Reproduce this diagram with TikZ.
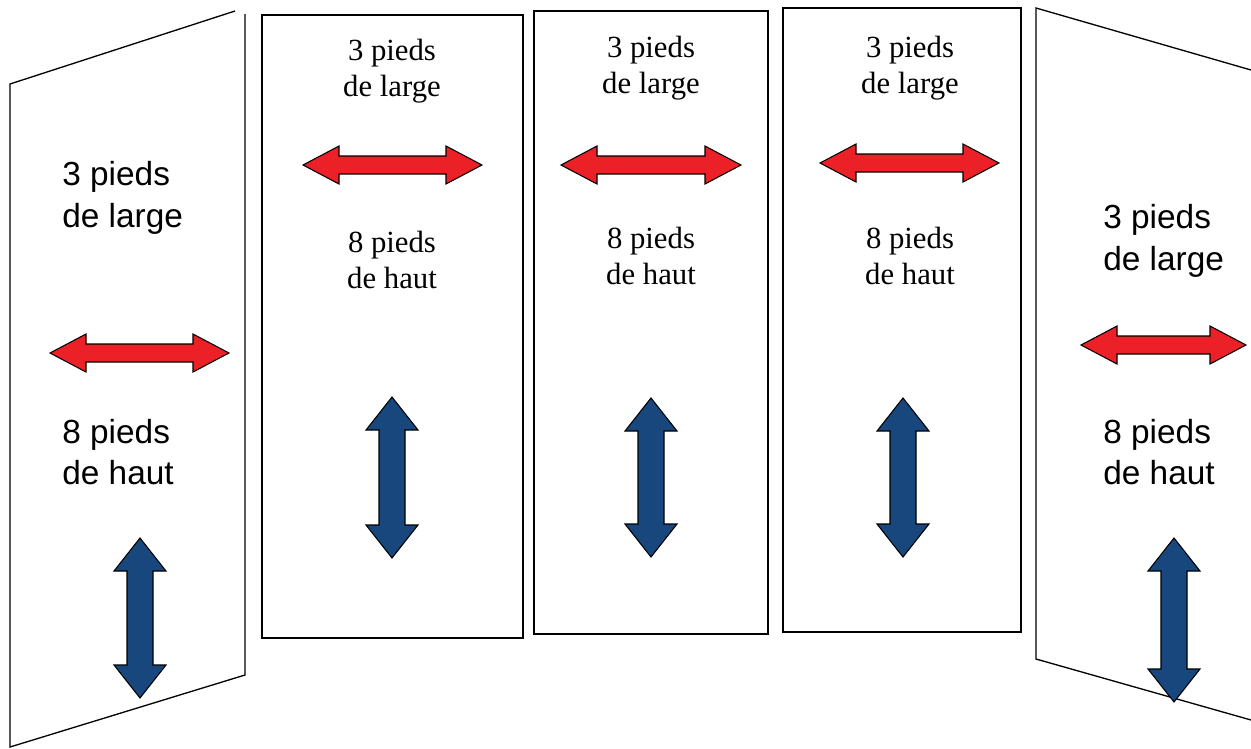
\documentclass[tikz,border=0pt]{standalone}
\usepackage{fontspec}
\setmainfont{Liberation Serif}
\setsansfont{Liberation Sans}
\definecolor{widthred}{RGB}{236,33,39}
\definecolor{heightblue}{RGB}{24,71,125}
\tikzset{
  panel/.style={line width=0.75pt, line join=miter},
  serifnote/.style={align=center, inner sep=0pt, font=\fontsize{17.5}{20.5}\selectfont},
  sansnote/.style={align=left, anchor=west, inner sep=0pt, font=\sffamily\fontsize{19}{23.5}\selectfont},
  widtharrow/.style={draw=black, line width=0.6pt, fill=widthred},
  heightarrow/.style={draw=black, line width=0.6pt, fill=heightblue},
}
\newcommand\widthmark[3]{%
  \filldraw[widtharrow] (#1,#3) -- ++(36,-19) -- ++(0,10) -- (#2-36,#3-9) -- ++(0,-10)
    -- (#2,#3) -- ++(-36,19) -- ++(0,-10) -- (#1+36,#3+9) -- ++(0,10) -- cycle;}
\newcommand\heightmark[3]{%
  \filldraw[heightarrow] (#1,#2) -- ++(26,33) -- ++(-13,0) -- (#1+13,#3-33) -- ++(13,0)
    -- (#1,#3) -- ++(-26,-33) -- ++(13,0) -- (#1-13,#2+33) -- ++(-13,0) -- cycle;}

\begin{document}
\begin{tikzpicture}[x=0.02cm, y=-0.02cm]
\useasboundingbox (0,0) rectangle (1251,748);

\draw[panel] (235,11) -- (10,84) -- (10,747) -- (245,675) -- (245,14);
\draw[panel] (262,15) rectangle (523,638);
\draw[panel] (534,11) rectangle (768,634);
\draw[panel, line width=1.6pt] (783,8) rectangle (1021,632);
\draw[panel] (1251,70) -- (1036,8) -- (1036,659) -- (1251,720);

\node[sansnote] (wide1) at (62,198) {3 pieds\\de large};
\node[sansnote] (high1) at (62,452) {8 pieds\\de haut};
\node[serifnote] (wide2) at (392,71) {3 pieds\\de large};
\node[serifnote] (high2) at (392,260) {8 pieds\\de haut};
\node[serifnote] (wide3) at (651,68) {3 pieds\\de large};
\node[serifnote] (high3) at (651,256) {8 pieds\\de haut};
\node[serifnote] (wide4) at (910,68) {3 pieds\\de large};
\node[serifnote] (high4) at (910,256) {8 pieds\\de haut};
\node[sansnote] (wide5) at (1103,241) {3 pieds\\de large};
\node[sansnote] (high5) at (1103,452) {8 pieds\\de haut};

\widthmark{50}{229}{353}
\widthmark{303}{482}{165}
\widthmark{561}{741}{165}
\widthmark{820}{999}{163}
\widthmark{1081}{1246}{345}

\heightmark{140}{538}{698}
\heightmark{392}{397}{558}
\heightmark{651}{398}{557}
\heightmark{903}{398}{557}
\heightmark{1174}{538}{702}
\end{tikzpicture}
\end{document}
